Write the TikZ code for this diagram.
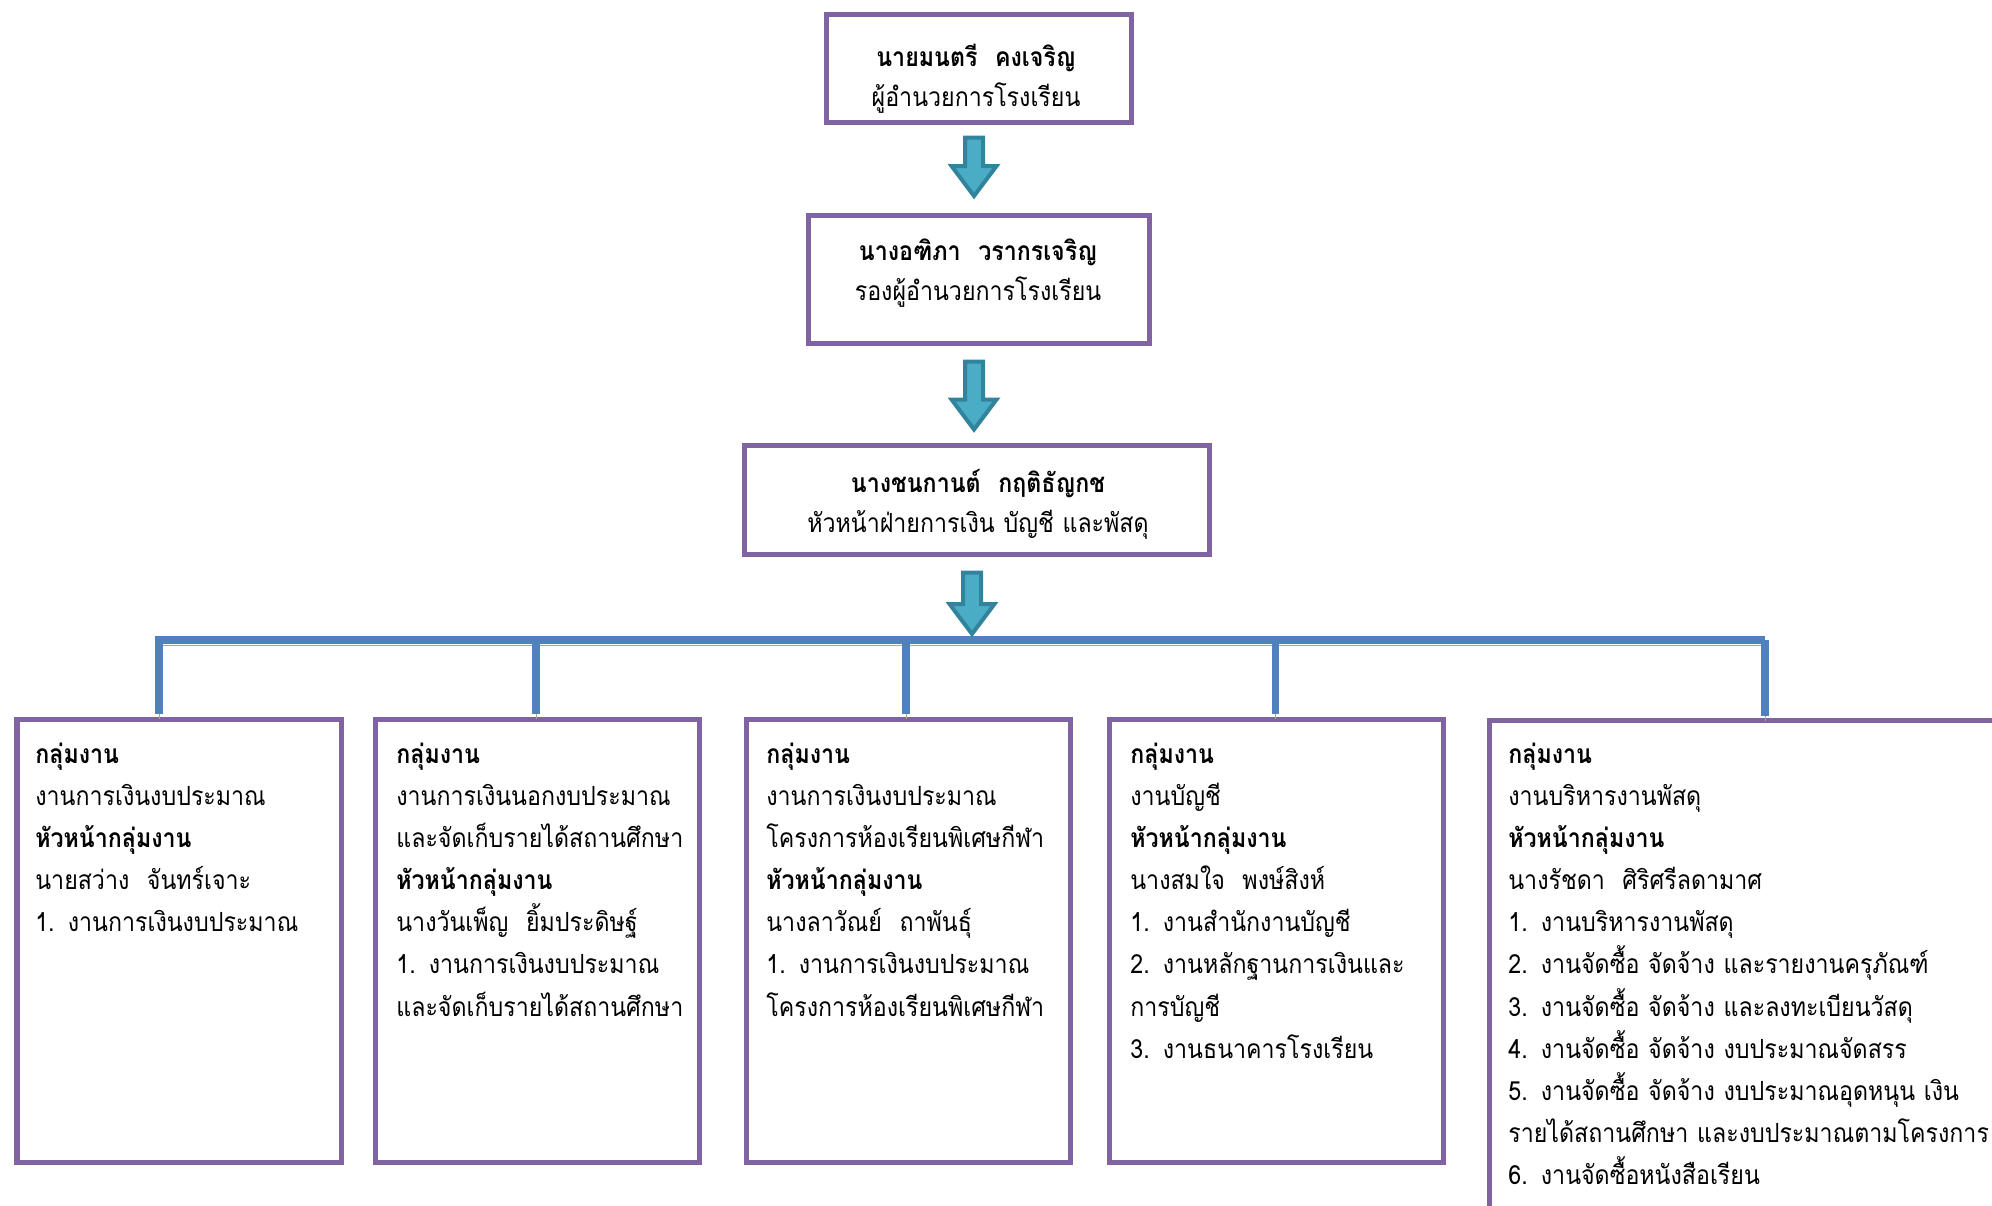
\documentclass[tikz,border=0pt]{standalone}
\usepackage{fontspec}
\setmainfont{Loma}[Script=Thai, FakeStretch=0.88]
\usetikzlibrary{calc}
\definecolor{morado}{HTML}{8064A2}
\definecolor{azul}{HTML}{4F81BD}
\definecolor{sombra}{HTML}{A6A6A6}
\definecolor{aguafill}{HTML}{4BACC6}
\definecolor{aguaborde}{HTML}{31849B}
\newcommand{\flecha}[2]{%
  \draw[flechaazul] let \p1=(#1), \p2=(#2) in
    (\x1-0.18cm,\y1) -- (\x1-0.18cm,\y2+0.6cm) -- (\x1-0.45cm,\y2+0.6cm) -- (\x1,\y2)
    -- (\x1+0.45cm,\y2+0.6cm) -- (\x1+0.18cm,\y2+0.6cm) -- (\x1+0.18cm,\y1) -- cycle;}
\begin{document}
\begin{tikzpicture}[
  caja/.style={draw=morado, line width=0.1cm, fill=white, inner sep=0pt},
  titulo/.style={anchor=base, align=center, text width=9cm, inner sep=0pt, font=\fontsize{15}{23}\selectfont},
  texto/.style={anchor=base west, align=left, text width=12cm, inner sep=0pt, font=\fontsize{15}{24}\selectfont},
  linea/.style={draw=azul, line width=0.16cm, preaction={draw=sombra, transform canvas={yshift=-0.1cm}}},
  flechaazul/.style={draw=aguaborde, fill=aguafill, line width=0.08cm, line join=miter}]
\useasboundingbox (0,0) rectangle (39.84,-24.10);
\clip (0,0) rectangle (39.84,-24.10);

\node[caja, minimum width=6.10cm, minimum height=2.16cm] (dir)  at (19.58,-1.37)  {};
\node[caja, minimum width=6.82cm, minimum height=2.56cm] (sub)  at (19.58,-5.59)  {};
\node[caja, minimum width=9.30cm, minimum height=2.18cm] (jefe) at (19.54,-10.00) {};
\node[titulo] (tdir)  at (19.52,-1.33) {\textbf{นายมนตรี~~คงเจริญ}\\ผู้อำนวยการโรงเรียน};
\node[titulo] (tsub)  at (19.56,-5.20) {\textbf{นางอฑิภา~~วรากรเจริญ}\\รองผู้อำนวยการโรงเรียน};
\node[titulo] (tjefe) at (19.56,-9.84) {\textbf{นางชนกานต์~~กฤติธัญกช}\\หัวหน้าฝ่ายการเงิน บัญชี และพัสดุ};

\node[caja, anchor=north west, minimum width=6.48cm, minimum height=8.87cm] (gA) at (0.29,-14.33)  {};
\node[caja, anchor=north west, minimum width=6.48cm, minimum height=8.87cm] (gB) at (7.45,-14.33)  {};
\node[caja, anchor=north west, minimum width=6.48cm, minimum height=8.87cm] (gC) at (14.87,-14.33) {};
\node[caja, anchor=north west, minimum width=6.68cm, minimum height=8.87cm] (gD) at (22.13,-14.33) {};
\node[caja, anchor=north west, minimum width=12cm, minimum height=12cm]     (gE) at (29.73,-14.36) {};

\node[texto] (tA) at (0.70,-15.26) {\textbf{กลุ่มงาน}\\งานการเงินงบประมาณ\\\textbf{หัวหน้ากลุ่มงาน}\\นายสว่าง~~จันทร์เจาะ\\1. งานการเงินงบประมาณ};
\node[texto] (tB) at (7.92,-15.26) {\textbf{กลุ่มงาน}\\งานการเงินนอกงบประมาณ\\และจัดเก็บรายได้สถานศึกษา\\\textbf{หัวหน้ากลุ่มงาน}\\นางวันเพ็ญ~~ยิ้มประดิษฐ์\\1. งานการเงินงบประมาณ\\และจัดเก็บรายได้สถานศึกษา};
\node[texto] (tC) at (15.32,-15.26) {\textbf{กลุ่มงาน}\\งานการเงินงบประมาณ\\โครงการห้องเรียนพิเศษกีฬา\\\textbf{หัวหน้ากลุ่มงาน}\\นางลาวัณย์~~ถาพันธุ์\\1. งานการเงินงบประมาณ\\โครงการห้องเรียนพิเศษกีฬา};
\node[texto] (tD) at (22.60,-15.26) {\textbf{กลุ่มงาน}\\งานบัญชี\\\textbf{หัวหน้ากลุ่มงาน}\\นางสมใจ~~พงษ์สิงห์\\1. งานสำนักงานบัญชี\\2. งานหลักฐานการเงินและ\\การบัญชี\\3. งานธนาคารโรงเรียน};
\node[texto] (tE) at (30.16,-15.26) {\textbf{กลุ่มงาน}\\งานบริหารงานพัสดุ\\\textbf{หัวหน้ากลุ่มงาน}\\นางรัชดา~~ศิริศรีลดามาศ\\1. งานบริหารงานพัสดุ\\2. งานจัดซื้อ จัดจ้าง และรายงานครุภัณฑ์\\3. งานจัดซื้อ จัดจ้าง และลงทะเบียนวัสดุ\\4. งานจัดซื้อ จัดจ้าง งบประมาณจัดสรร\\5. งานจัดซื้อ จัดจ้าง งบประมาณอุดหนุน เงิน\\รายได้สถานศึกษา และงบประมาณตามโครงการ\\6. งานจัดซื้อหนังสือเรียน};

\coordinate (v1) at (3.18,-12.80);
\coordinate (v2) at (10.72,-12.80);
\coordinate (v3) at (18.12,-12.80);
\coordinate (v4) at (25.51,-12.80);
\coordinate (v5) at (35.30,-12.80);
\draw[linea] ($(v1)+(-0.08,0)$) -- (v5);
\foreach \v/\g in {v1/gA, v2/gB, v3/gC, v4/gD, v5/gE}
  \draw[linea, line width=0.15cm] (\v) -- ($(\v |- \g.north)+(0,0.05)$);

\flecha{$(dir.south)+(-0.10,-0.25)$}{$(sub.north)+(-0.10,0.34)$}
\flecha{$(sub.south)+(-0.10,-0.31)$}{$(jefe.north)+(-0.10,0.27)$}
\flecha{$(jefe.south)+(-0.10,-0.31)$}{$(jefe.south |- v1)+(-0.10,0.12)$}
\end{tikzpicture}
\end{document}
